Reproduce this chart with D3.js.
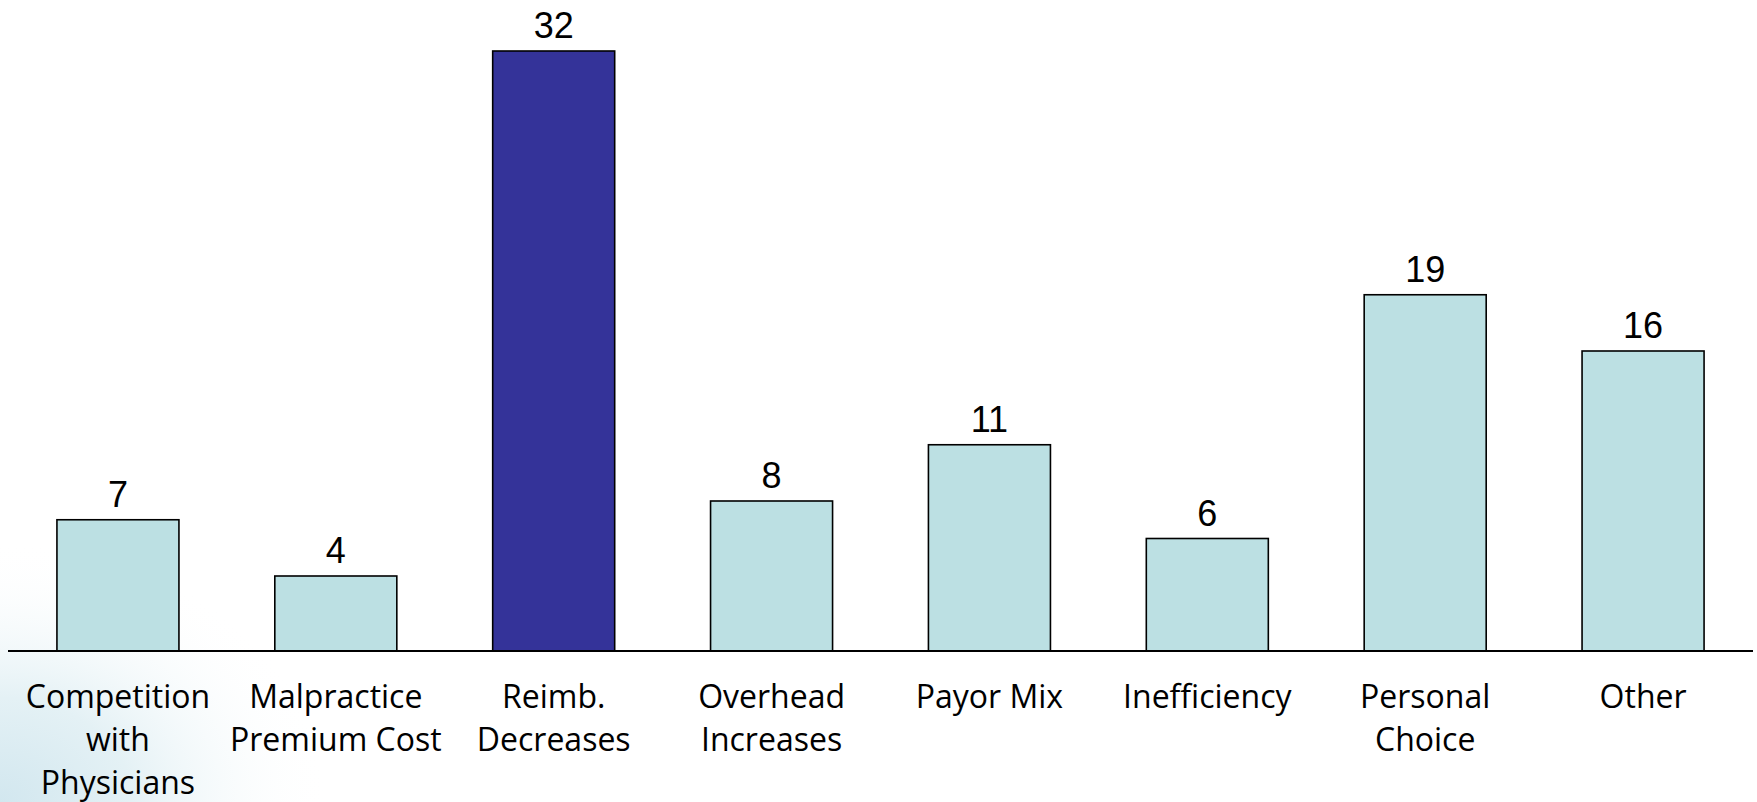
<!DOCTYPE html>
<html><head><meta charset="utf-8">
<script src="https://cdn.jsdelivr.net/npm/d3@7"></script>
<style>html,body{margin:0;padding:0;background:#fff;}svg{display:block;}</style>
</head><body>
<svg id="c" width="1757" height="802"></svg>
<script>
const categories = [["Competition","with","Physicians"],["Malpractice","Premium Cost"],["Reimb.","Decreases"],["Overhead","Increases"],["Payor Mix"],["Inefficiency"],["Personal","Choice"],["Other"]];
const values = [7,4,32,8,11,6,19,16];
const highlight = [false,false,true,false,false,false,false,false];

const svg = d3.select("#c");
const W = 1757, H = 802;
const defs = svg.append("defs");
const rg = defs.append("radialGradient").attr("id","glow").attr("cx","0").attr("cy","1").attr("r","1");
rg.append("stop").attr("offset","0%").attr("stop-color","#d2e7ef");
rg.append("stop").attr("offset","40%").attr("stop-color","#e4f1f5");
rg.append("stop").attr("offset","100%").attr("stop-color","#ffffff").attr("stop-opacity",0);
svg.append("rect").attr("x",0).attr("y",H-260).attr("width",330).attr("height",260).attr("fill","url(#glow)");

const baseY = 651;
const x = d3.scaleBand().domain(d3.range(values.length)).range([9,1752]).paddingInner(0.44).paddingOuter(0.22);
const y = d3.scaleLinear().domain([0,32]).range([baseY,51]);

svg.selectAll("rect.bar").data(values).enter().append("rect").attr("class","bar")
  .attr("x",(d,i)=>x(i)).attr("y",d=>y(d)).attr("width",x.bandwidth()).attr("height",d=>baseY-y(d))
  .attr("fill",(d,i)=>highlight[i]?"#343399":"#bce0e3").attr("stroke","#000").attr("stroke-width",1.6);

svg.append("line").attr("x1",8).attr("x2",1753).attr("y1",baseY).attr("y2",baseY).attr("stroke","#000").attr("stroke-width",2);

svg.selectAll("text.val").data(values).enter().append("text").attr("class","val")
  .attr("x",(d,i)=>x(i)+x.bandwidth()/2).attr("y",d=>y(d)-13)
  .attr("text-anchor","middle").attr("font-family","Liberation Sans, Arial, sans-serif").attr("font-size",36).attr("fill","#000")
  .text(d=>d);

const lab = svg.selectAll("text.cat").data(categories).enter().append("text").attr("class","cat")
  .attr("x",(d,i)=>x(i)+x.bandwidth()/2).attr("y",708)
  .attr("text-anchor","middle").attr("font-family","Open Sans, sans-serif").attr("font-size",32).attr("fill","#000");
lab.each(function(d,i){
  const t=d3.select(this);
  d.forEach((s,j)=>t.append("tspan").attr("x",x(i)+x.bandwidth()/2).attr("dy",j===0?0:43).text(s));
});
</script>
</body></html>
